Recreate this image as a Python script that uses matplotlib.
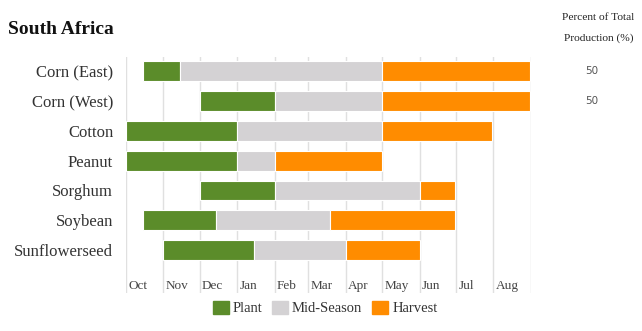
import numpy as np
import matplotlib.pyplot as plt
from matplotlib.patches import Patch

# crop calendar, values in days since Oct 1
crops = ['Corn (East)', 'Corn (West)', 'Cotton', 'Peanut', 'Sorghum', 'Soybean', 'Sunflowerseed']
plant_start = [14, 61, 0, 0, 61, 14, 31]
plant_end = [45, 123, 92, 92, 123, 75, 106]
mid_end = [212, 212, 212, 123, 243, 169, 182]
harvest_end = [334, 334, 303, 212, 272, 272, 243]
pct_prod = ['50', '50', '', '', '', '', '']

months = ['Oct', 'Nov', 'Dec', 'Jan', 'Feb', 'Mar', 'Apr', 'May', 'Jun', 'Jul', 'Aug']
month_days = [31, 30, 31, 31, 28, 31, 30, 31, 30, 31, 31]

green = '#5b8c2a'
grey = '#d4d2d4'
orange = '#ff8c00'
serif = ['Liberation Serif', 'DejaVu Serif']

fig = plt.figure(figsize=(6.42, 3.31), dpi=100)
ax = fig.add_axes([125.7/642, 1-293/331, (531-125.7)/642, (293-57)/331])

y = np.arange(len(crops))
ps = np.array(plant_start)
pe = np.array(plant_end)
me = np.array(mid_end)
he = np.array(harvest_end)
h = 0.67
ax.barh(y, pe-ps, left=ps, height=h, color=green, edgecolor='white', linewidth=0.8, zorder=3)
ax.barh(y, me-pe, left=pe, height=h, color=grey, edgecolor='white', linewidth=0.8, zorder=3)
ax.barh(y, he-me, left=me, height=h, color=orange, edgecolor='white', linewidth=0.8, zorder=3)

edges = np.concatenate([[0], np.cumsum(month_days)])
for e in edges:
    ax.axvline(e, color='#e0e0e0', linewidth=1, zorder=1)
for m, e in zip(months, edges[:-1]):
    ax.text(e + 2, 7.2, m, fontsize=9.5, family=serif, color='#444444', va='center', ha='left')

ax.set_xlim(0, edges[-1])
ax.set_ylim(7.44, -0.48)
ax.set_yticks(y)
ax.set_yticklabels(crops, family=serif, fontsize=12, color='#333333')
ax.tick_params(axis='y', length=0, pad=9)
ax.set_xticks([])
for s in ax.spines.values():
    s.set_visible(False)

for i, p in enumerate(pct_prod):
    if p:
        fig.text(592/642, 1 - (71.3 + i*29.8)/331, p, fontsize=7.5, color='#555555',
                 ha='center', va='center')

fig.text(8/642, 1-29/331, 'South Africa', fontsize=14, fontweight='bold', family=serif,
         va='center', ha='left', color='#111111')
fig.text(634/642, 1-18/331, 'Percent of Total', fontsize=8.2, family=serif, ha='right', va='center', color='#222222')
fig.text(634/642, 1-38/331, 'Production (%)', fontsize=8.2, family=serif, ha='right', va='center', color='#222222')

handles = [Patch(color=green, label='Plant'), Patch(color=grey, label='Mid-Season'),
           Patch(color=orange, label='Harvest')]
fig.legend(handles=handles, loc='center', bbox_to_anchor=(325/642, 1-308/331), ncol=3,
           frameon=False, prop={'family': serif, 'size': 10.5}, handlelength=1.1, handleheight=1.0,
           handletextpad=0.25, columnspacing=0.7, labelcolor='#333333')

fig.savefig('out.png', dpi=100)
